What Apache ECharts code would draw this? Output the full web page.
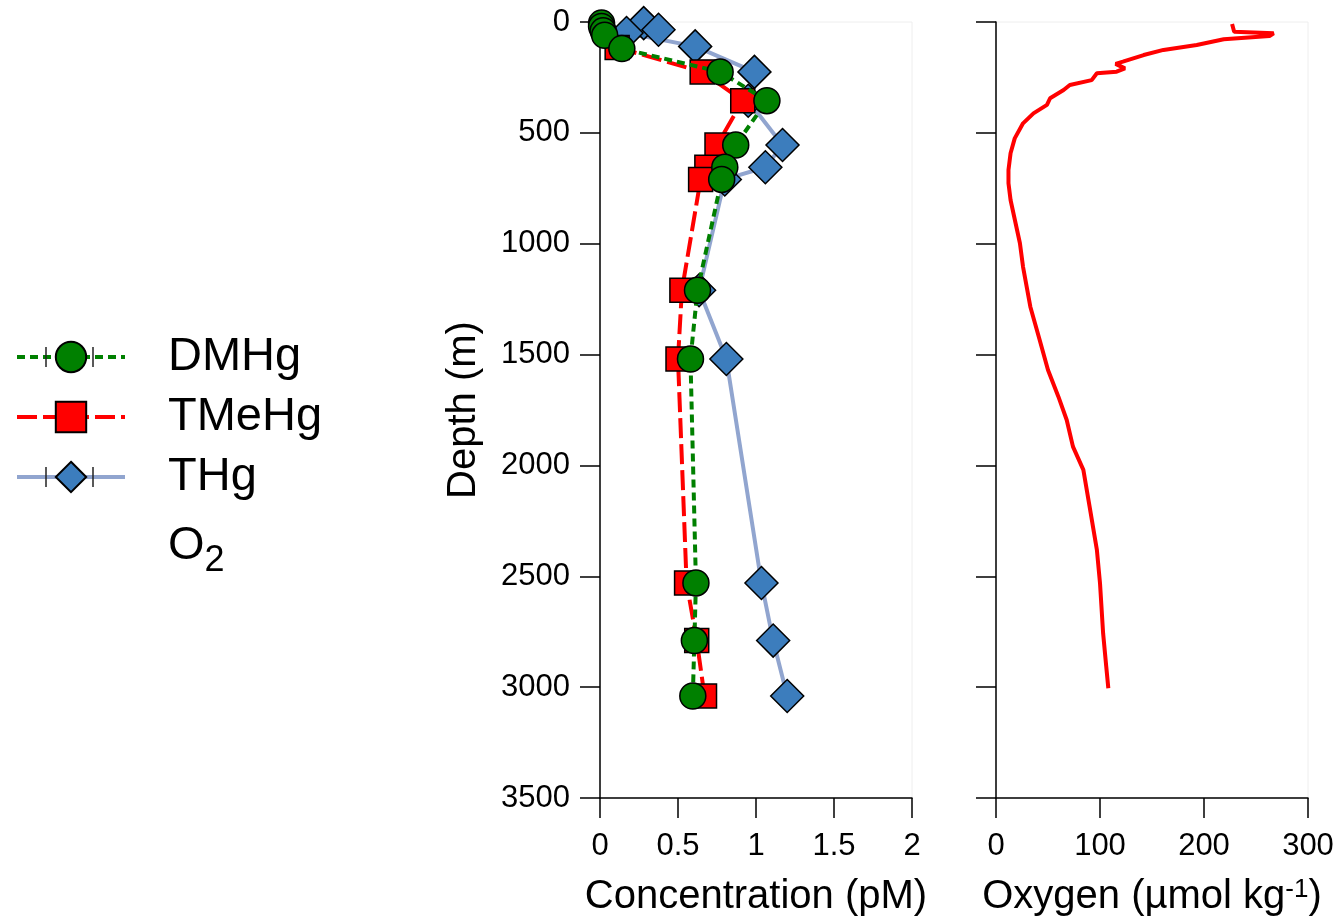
<!DOCTYPE html>
<html>
<head>
<meta charset="utf-8">
<script src="https://cdn.jsdelivr.net/npm/echarts@6/dist/echarts.min.js"></script>
<style>
html, body { margin: 0; background: #fff; }
#main { width: 1340px; height: 920px; }
</style>
</head>
<body>
<div id="main"></div>
<script>
// depth in m, concentration in pM
var dmhgDepth = [5, 20, 40, 60, 120, 225, 355, 555, 655, 710, 1210, 1520, 2530, 2790, 3040];
var dmhgConc  = [0.01, 0.01, 0.02, 0.03, 0.14, 0.77, 1.07, 0.87, 0.80, 0.78, 0.625, 0.58, 0.615, 0.605, 0.595];

var tmehgDepth = [115, 225, 355, 555, 655, 710, 1210, 1520, 2530, 2790, 3040];
var tmehgConc  = [0.11, 0.655, 0.915, 0.75, 0.685, 0.645, 0.525, 0.50, 0.555, 0.62, 0.67];

var thgDepth = [5, 35, 50, 110, 225, 355, 555, 655, 710, 1210, 1520, 2530, 2790, 3040];
var thgConc  = [0.28, 0.375, 0.17, 0.61, 0.99, 0.95, 1.17, 1.06, 0.80, 0.635, 0.81, 1.035, 1.11, 1.20];

// oxygen profile, umol/kg
var o2Depth = [9, 44, 51, 63, 78, 104, 126, 149, 179, 189, 209, 224, 231, 262, 284, 307, 344, 374, 412, 457, 525, 592, 667, 727, 803,
               998, 1104, 1284, 1434, 1570, 1690, 1795, 1915, 2020, 2186, 2381, 2531, 2757, 2907, 3005];
var o2Value = [227, 229, 267, 263, 219, 193, 161, 142, 122, 115, 124, 116, 97, 92, 71, 65, 52, 49, 36, 26, 18, 14, 12, 12, 14,
               23, 26, 33, 42, 50, 60, 68, 74, 84, 90, 97, 100, 103, 106, 108];

function pairs(xs, ys) {
    return xs.map(function (x, i) { return [x, ys[i]]; });
}

var font = 'Liberation Sans';
var axisLine = { show: true, onZero: false, lineStyle: { color: '#000', width: 1.5 } };
var axisTick = { show: true, inside: false, length: 20, lineStyle: { color: '#000', width: 1.5 } };
var plain = function (v) { return String(v); };

var myChart = echarts.init(document.getElementById('main'));

// little caps on the legend symbols (error bar ends)
function cap(x, y) {
    return { type: 'line', shape: { x1: x, y1: y - 10, x2: x, y2: y + 10 }, style: { stroke: '#222', lineWidth: 1.5 }, z: 100 };
}

var option = {
    animation: false,
    backgroundColor: '#fff',
    grid: [
        { left: 600, top: 22, width: 312, height: 776, outerBoundsMode: 'none', containLabel: false,
          show: true, borderColor: '#eeeeee', borderWidth: 1 },
        { left: 996, top: 22, width: 312, height: 776, outerBoundsMode: 'none', containLabel: false,
          show: true, borderColor: '#eeeeee', borderWidth: 1 }
    ],
    xAxis: [
        {
            type: 'value', gridIndex: 0, position: 'bottom', min: 0, max: 2, interval: 0.5,
            axisLine: axisLine, axisTick: axisTick, splitLine: { show: false },
            axisLabel: { fontSize: 31, color: '#000', fontFamily: font, margin: 33, formatter: plain },
            name: 'Concentration (pM)', nameLocation: 'middle', nameGap: 79,
            nameTextStyle: { fontSize: 40, color: '#000', fontFamily: font }
        },
        {
            type: 'value', gridIndex: 1, position: 'bottom', min: 0, max: 300, interval: 100,
            axisLine: axisLine, axisTick: axisTick, splitLine: { show: false },
            axisLabel: { fontSize: 31, color: '#000', fontFamily: font, margin: 33, formatter: plain },
            name: 'Oxygen (µmol kg{sup|-1})', nameLocation: 'middle', nameGap: 79,
            nameTextStyle: {
                fontSize: 40, color: '#000', fontFamily: font,
                rich: { sup: { fontSize: 26, fontFamily: font, color: '#000', verticalAlign: 'top', lineHeight: 26 } }
            }
        }
    ],
    yAxis: [
        {
            type: 'value', gridIndex: 0, position: 'left', inverse: true, min: 0, max: 3500, interval: 500,
            axisLine: axisLine, axisTick: axisTick, splitLine: { show: false },
            axisLabel: { fontSize: 31, color: '#000', fontFamily: font, margin: 30, formatter: plain },
            name: 'Depth (m)', nameLocation: 'middle', nameGap: 116, nameRotate: 90,
            nameTextStyle: { fontSize: 40, color: '#000', fontFamily: font }
        },
        {
            type: 'value', gridIndex: 1, position: 'left', inverse: true, min: 0, max: 3500, interval: 500,
            axisLine: axisLine, axisTick: axisTick, splitLine: { show: false },
            axisLabel: { show: false }
        }
    ],
    legend: {
        orient: 'vertical', left: 15, top: 333, padding: 0,
        itemWidth: 108, itemHeight: 38, itemGap: 12,
        selectedMode: false,
        lineStyle: { width: 4 },
        data: [{ name: 'DMHg' }, { name: 'TMeHg' }, { name: 'THg' }, { name: 'O2', icon: 'none' }],
        formatter: function (n) { return n === 'O2' ? '{o|O}{sub|2}' : n; },
        textStyle: {
            fontSize: 47, color: '#000', fontFamily: font, padding: [0, 0, 0, 38], lineHeight: 48,
            rich: {
                o: { fontSize: 47, fontFamily: font, color: '#000', lineHeight: 66 },
                sub: { fontSize: 36, fontFamily: font, color: '#000', verticalAlign: 'bottom', lineHeight: 50 }
            }
        }
    },
    graphic: [cap(46, 357), cap(93, 357), cap(46, 477), cap(93, 477)],
    series: [
        {
            name: 'THg', type: 'line', xAxisIndex: 0, yAxisIndex: 0, z: 2,
            data: pairs(thgConc, thgDepth),
            symbol: 'diamond', symbolSize: 33, showAllSymbol: true,
            itemStyle: { color: '#3c7dbd', borderColor: '#000', borderWidth: 1.5 },
            lineStyle: { color: '#91a5cf', width: 4, type: 'solid' }
        },
        {
            name: 'TMeHg', type: 'line', xAxisIndex: 0, yAxisIndex: 0, z: 3,
            data: pairs(tmehgConc, tmehgDepth),
            symbol: 'rect', symbolSize: 24, showAllSymbol: true,
            itemStyle: { color: '#ff0000', borderColor: '#000', borderWidth: 1.5 },
            lineStyle: { color: '#ff0000', width: 4, type: [20, 6] }
        },
        {
            name: 'DMHg', type: 'line', xAxisIndex: 0, yAxisIndex: 0, z: 4,
            data: pairs(dmhgConc, dmhgDepth),
            symbol: 'circle', symbolSize: 26, showAllSymbol: true,
            itemStyle: { color: '#008000', borderColor: '#000', borderWidth: 1.5 },
            lineStyle: { color: '#008000', width: 4, type: [8, 5] }
        },
        {
            name: 'O2', type: 'line', xAxisIndex: 1, yAxisIndex: 1, z: 2,
            data: pairs(o2Value, o2Depth),
            symbol: 'none',
            itemStyle: { color: '#ff0000' },
            lineStyle: { color: '#ff0000', width: 4 }
        }
    ]
};

option && myChart.setOption(option);
</script>
</body>
</html>
